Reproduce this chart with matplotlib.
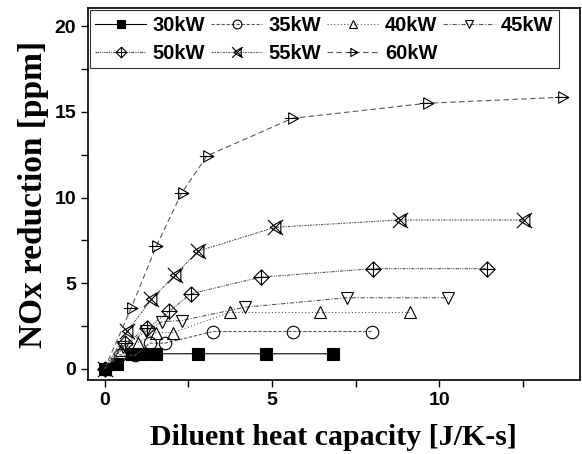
import numpy as np
import matplotlib
matplotlib.use('Agg')
import matplotlib.pyplot as plt
from matplotlib.path import Path
from matplotlib.ticker import MultipleLocator

# data
labels = ['30kW', '35kW', '40kW', '45kW', '50kW', '55kW', '60kW']
x30 = [0, 0.37, 0.83, 1.15, 1.53, 2.79, 4.82, 6.84]
y30 = [0, 0.29, 0.88, 0.88, 0.88, 0.88, 0.88, 0.88]
x35 = [0, 0.45, 0.90, 1.35, 1.80, 3.24, 5.62, 7.98]
y35 = [0, 0.82, 0.78, 1.50, 1.50, 2.18, 2.18, 2.18]
x40 = [0, 0.50, 1.00, 1.55, 2.05, 3.74, 6.44, 9.13]
y40 = [0, 1.10, 1.53, 2.12, 2.12, 3.29, 3.29, 3.29]
x45 = [0, 0.56, 1.25, 1.73, 2.30, 4.21, 7.24, 10.26]
y45 = [0, 1.30, 2.20, 2.76, 2.82, 3.60, 4.15, 4.15]
x50 = [0, 0.62, 1.28, 1.93, 2.57, 4.66, 8.03, 11.43]
y50 = [0, 1.50, 2.37, 3.35, 4.38, 5.35, 5.85, 5.85]
x55 = [0, 0.68, 1.40, 2.10, 2.79, 5.09, 8.83, 12.53]
y55 = [0, 2.20, 4.05, 5.48, 6.87, 8.26, 8.69, 8.69]
x60 = [0, 0.80, 1.55, 2.30, 3.06, 5.61, 9.63, 13.67]
y60 = [0, 3.58, 7.18, 10.25, 12.43, 14.62, 15.50, 15.85]

M, L = Path.MOVETO, Path.LINETO

def diamond_plus():
    v = [(0, 1), (1, 0), (0, -1), (-1, 0), (0, 1),
         (-1, 0), (1, 0), (0, 1), (0, -1)]
    c = [M, L, L, L, L, M, L, M, L]
    return Path(v, c)

def x_tri():
    v = [(-1, -1), (1, 1), (-1, 1), (1, -1),
         (-0.7, 0), (0.7, 0.85), (0.7, -0.85), (-0.7, 0)]
    c = [M, L, M, L, M, L, L, L]
    return Path(v, c)

def tri_plus():
    v = [(-0.6, 0.9), (1, 0), (-0.6, -0.9), (-0.6, 0.9),
         (-1.2, 0), (1, 0)]
    c = [M, L, L, L, M, L]
    return Path(v, c)

xs = [x30, x35, x40, x45, x50, x55, x60]
ys = [y30, y35, y40, y45, y50, y55, y60]
markers = ['s', 'o', '^', 'v', diamond_plus(), x_tri(), tri_plus()]
styles = ['-', (0, (3, 1.5)), (0, (1, 2)), (0, (4, 1.5, 1, 1.5)),
          (0, (3, 1, 1, 1, 1, 1)), (0, (2, 1, 1, 1)), (0, (5, 3))]
sizes = [8, 9, 9, 9, 11, 11, 11]

fig = plt.figure(figsize=(5.82, 4.54), dpi=100)
ax = fig.add_axes([0.151, 0.163, 0.845, 0.819])

lines = []
for i in range(len(labels)):
    lc = 'black' if i == 0 else '0.35'
    ln, = ax.plot(xs[i], ys[i], linestyle=styles[i], color=lc, linewidth=0.8,
                  marker=markers[i], markersize=sizes[i], markeredgewidth=0.8,
                  markeredgecolor='black',
                  markerfacecolor='black' if i == 0 else 'none',
                  label=labels[i])
    lines.append(ln)

ax.set_xlim(-0.5, 14.2)
ax.set_ylim(-0.65, 21.05)
ax.xaxis.set_major_locator(MultipleLocator(5))
ax.xaxis.set_minor_locator(MultipleLocator(2.5))
ax.yaxis.set_major_locator(MultipleLocator(5))
ax.yaxis.set_minor_locator(MultipleLocator(2.5))
ax.tick_params(which='both', direction='out', length=5, width=1)
for lab in ax.get_xticklabels() + ax.get_yticklabels():
    lab.set_fontfamily('Liberation Sans')
    lab.set_fontweight('bold')
    lab.set_fontsize(14)
for s in ax.spines.values():
    s.set_linewidth(1.2)

ax.set_xlabel('Diluent heat capacity [J/K-s]', family='Liberation Serif',
              fontweight='bold', fontsize=21.5, labelpad=11)
ax.set_ylabel('NOx reduction [ppm]', family='Liberation Serif',
              fontweight='bold', fontsize=24, labelpad=4)

# row-major legend: 30 35 40 45 / 50 55 60
order = [0, 4, 1, 5, 2, 6, 3]
leg = ax.legend([lines[k] for k in order], [labels[k] for k in order],
                ncol=4, loc='upper left', bbox_to_anchor=(0.004, 0.995),
                borderaxespad=0, fancybox=False, edgecolor='black',
                handlelength=2.5, handletextpad=0.35, columnspacing=0.3,
                borderpad=0.28, labelspacing=0.45, markerscale=0.7,
                prop={'family': 'Liberation Sans', 'weight': 'bold', 'size': 14.5})
leg.get_frame().set_linewidth(0.8)

fig.savefig('out.png', dpi=100)
